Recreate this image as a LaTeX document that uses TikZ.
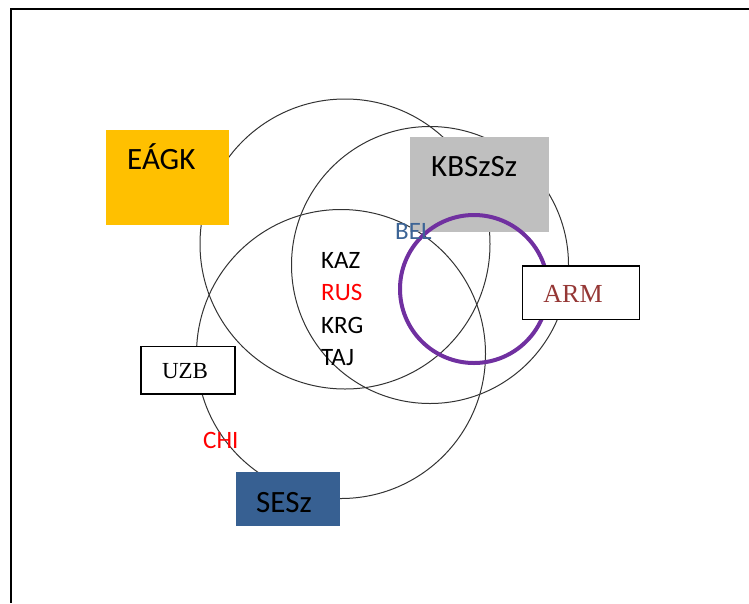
\documentclass[tikz,border=0pt]{standalone}
\usepackage{fontspec}
\setmainfont{Carlito}
\newfontfamily\serifrm{Liberation Serif}
\definecolor{orangeA}{RGB}{255,192,0}
\definecolor{grayA}{RGB}{191,191,191}
\definecolor{blueA}{RGB}{55,96,146}
\definecolor{belblue}{RGB}{60,100,150}
\definecolor{armred}{RGB}{149,55,53}
\definecolor{purpleA}{RGB}{112,48,160}
\begin{document}
\begin{tikzpicture}[x=1pt,y=-1pt,
  ring/.style={draw=black!80,line width=1pt},
  bigtext/.style={font=\fontsize{31}{31}\selectfont,inner sep=0pt},
  smalltext/.style={font=\fontsize{25}{25}\selectfont,inner sep=0pt,anchor=base west},
  serifbox/.style={draw=black,line width=1.2pt,fill=white}]
\useasboundingbox (0,0) rectangle (749,603);
\draw[line width=2pt] (749,9) -- (11,9) -- (11,603);
% circles
\node[ring,circle,minimum size=290pt,inner sep=0pt] (c1) at (345,244) {};
\node[ring,circle,minimum size=277pt,inner sep=0pt] (c2) at (430,265) {};
\node[ring,circle,minimum size=289pt,inner sep=0pt] (c3) at (341,354) {};
% boxes
\fill[orangeA] (106,130) rectangle (229,225);
\node[bigtext,anchor=base west] (eagk) at (127,169) {EÁGK};
\fill[grayA] (410,137) rectangle (549,232);
\node[bigtext,anchor=base west] (kbs) at (431,176) {KBSzSz};
\node[draw=purpleA,line width=4pt,circle,minimum size=148pt,inner sep=0pt] (pc) at (474,289) {};
\draw[serifbox] (522.5,266) rectangle (639.5,319.5);
\node[font=\serifrm\fontsize{26}{26}\selectfont,text=armred,inner sep=0pt,anchor=base] (arm) at (573,302) {ARM};
\draw[serifbox] (141,346.5) rectangle (235,394);
\node[font=\serifrm\fontsize{23}{23}\selectfont,inner sep=0pt,anchor=base] (uzb) at (185,378) {UZB};
\fill[blueA] (236,472) rectangle (340,525.5);
\node[bigtext,anchor=base] (sesz) at (284,512) {SESz};
% labels
\node[smalltext,text=belblue] (bel) at (395,239) {BEL};
\node[smalltext] (kaz) at (321,268) {KAZ};
\node[smalltext,text=red] (rus) at (321,300.5) {RUS};
\node[smalltext] (krg) at (321,333) {KRG};
\node[smalltext] (taj) at (321,365.5) {TAJ};
\node[smalltext,text=red] (chi) at (203,448) {CHI};
\end{tikzpicture}
\end{document}
